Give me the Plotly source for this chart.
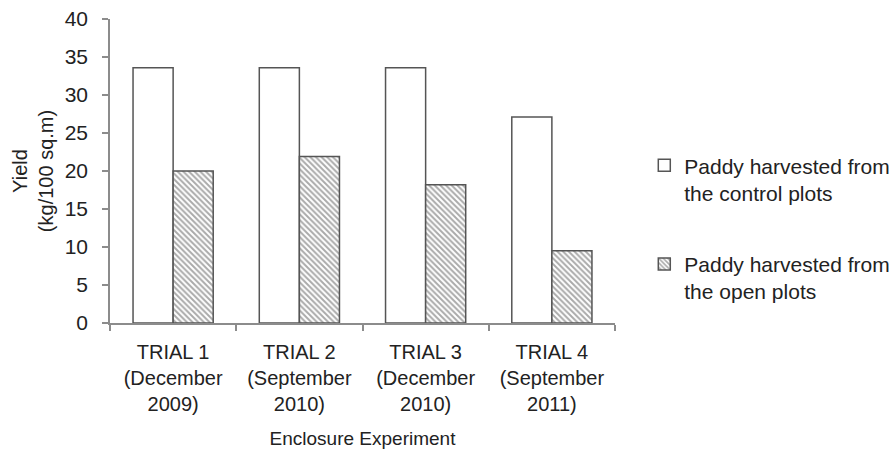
import plotly.graph_objects as go

# Yield per trial (kg / 100 sq.m)
trials = [
    "TRIAL 1<br>(December<br>2009)",
    "TRIAL 2<br>(September<br>2010)",
    "TRIAL 3<br>(December<br>2010)",
    "TRIAL 4<br>(September<br>2011)",
]
control_yield = [33.6, 33.6, 33.6, 27.1]
open_yield = [20.0, 21.9, 18.2, 9.5]

series_names = [
    "Paddy harvested from<br>the control plots",
    "Paddy harvested from<br>the open plots",
]

FONT = "Liberation Sans, Arial, Helvetica, sans-serif"
TEXT = "#222222"
EDGE = "#555555"
AXIS = "#8c8c8c"

fig = go.Figure()
fig.add_trace(go.Bar(
    x=trials, y=control_yield, name=series_names[0], legendgroup="control",
    marker=dict(color="white", line=dict(color=EDGE, width=1.5)),
))
fig.add_trace(go.Bar(
    x=trials, y=open_yield, name=series_names[1], legendgroup="open",
    marker=dict(
        color="white",
        line=dict(color=EDGE, width=1.5),
        pattern=dict(shape="\\", fgcolor="#555555", bgcolor="white",
                     size=4, solidity=0.5),
    ),
))

fig.update_layout(
    width=894, height=450,
    margin=dict(l=110, r=279, t=19, b=127, autoexpand=False),
    paper_bgcolor="white", plot_bgcolor="white",
    font=dict(family=FONT, size=20, color=TEXT),
    barmode="group", bargap=0.365, bargroupgap=0,
    showlegend=True,
    legend=dict(
        x=1.058, xanchor="left", y=0.585, yanchor="top",
        font=dict(size=21, color=TEXT), tracegroupgap=41,
        valign="top", bgcolor="rgba(0,0,0,0)", itemwidth=30,
    ),
    xaxis=dict(
        showline=True, linecolor=AXIS, linewidth=1.5,
        ticks="outside", ticklen=6, tickcolor=AXIS, tickwidth=1.5,
        tickson="boundaries", showgrid=False,
        tickfont=dict(size=20, color=TEXT), ticklabelstandoff=10,
        title=dict(text="Enclosure Experiment", font=dict(size=19, color=TEXT), standoff=18),
    ),
    yaxis=dict(
        range=[0, 40], dtick=5, showgrid=False, zeroline=False,
        showline=True, linecolor=AXIS, linewidth=1.5,
        ticks="outside", ticklen=6, tickcolor=AXIS, tickwidth=1.5,
        tickfont=dict(size=21, color=TEXT), ticklabelstandoff=10,
        title=dict(text="Yield<br>(kg/100 sq.m)", font=dict(size=20, color=TEXT), standoff=6),
    ),
)

fig.write_html("out.html")
